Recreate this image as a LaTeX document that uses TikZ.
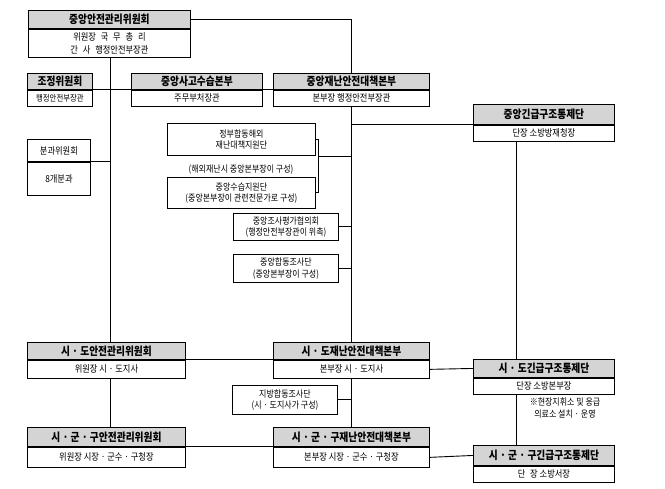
\documentclass[tikz,border=0pt]{standalone}
\usepackage{fontspec}
\usetikzlibrary{calc}
\setmainfont[FakeStretch=0.86]{Noto Sans CJK KR}
\definecolor{hdrgray}{RGB}{212,212,212}
\newcommand\twobox[8]{%
  \node[hdr, minimum width=#4pt, minimum height=#5pt, anchor=north west] (#1-h) at (#2,#3) {#7};
  \node[bdy, minimum width=#4pt, minimum height=#6pt, anchor=north] (#1-b) at (#1-h.south) {#8};}
\tikzset{
  hdr/.style={draw, line width=0.9pt, fill=hdrgray, inner sep=0pt, font=\fontsize{11.3}{12}\selectfont\bfseries},
  bdy/.style={draw, line width=0.9pt, fill=white, inner sep=0pt, align=center, font=\fontsize{9.6}{12.5}\selectfont},
  sbox/.style={draw, line width=0.9pt, fill=white, inner sep=0pt, align=center, anchor=north west, font=\fontsize{9.3}{11.5}\selectfont},
  conn/.style={line width=0.9pt},
  note/.style={inner sep=0pt, align=center, font=\fontsize{9.3}{11.5}\selectfont}
}
\begin{document}
\begin{tikzpicture}[x=1pt,y=-1pt]
\useasboundingbox (0,0) rectangle (665,489);
% spines
\coordinate (L) at (110,0);
\coordinate (C) at (351,0);
\coordinate (R) at (516,0);
\coordinate (BR) at (318,0);
% central level
\twobox{cc}{28}{10}{162}{18}{28}{중앙안전관리위원회}{위원장\enspace 국\enspace 무\enspace 총\enspace 리\\간\enspace 사\enspace 행정안전부장관}
\twobox{coord}{27}{73}{65}{16}{16}{조정위원회}{\fontsize{8.6}{9}\selectfont 행정안전부장관}
\twobox{sago}{131}{73}{131}{16}{16}{중앙사고수습본부}{주무부처장관}
\twobox{cdh}{273}{73}{156}{16}{16}{중앙재난안전대책본부}{본부장 행정안전부장관}
\twobox{cem}{473}{104}{141}{20}{16}{중앙긴급구조통제단}{단장 소방방재청장}
\node[bdy, minimum width=63pt, minimum height=22pt, anchor=north west] (sub-h) at (27,139) {분과위원회};
\node[bdy, minimum width=63pt, minimum height=33pt, anchor=north] (sub-b) at (sub-h.south) {8개분과};
\node[sbox, minimum width=148pt, minimum height=32pt] (gov) at (167,123) {정부합동해외\\재난대책지원단};
\node[note] (govnote) at (241,170) {(해외재난시 중앙본부장이 구성)};
\node[sbox, minimum width=148pt, minimum height=31pt] (sup) at (167,177) {중앙수습지원단\\(중앙본부장이 관련전문가로 구성)};
\node[sbox, minimum width=105pt, minimum height=27pt] (eval) at (233,213) {중앙조사평가협의회\\(행정안전부장관이 위촉)};
\node[sbox, minimum width=105pt, minimum height=28pt] (joint) at (233,254) {중앙합동조사단\\(중앙본부장이 구성)};
% province level
\twobox{pc}{27}{342}{158}{17}{18}{시 · 도안전관리위원회}{위원장 시 · 도지사}
\twobox{pdh}{273}{342}{156}{17}{18}{시 · 도재난안전대책본부}{본부장 시 · 도지사}
\twobox{pem}{473}{359}{141}{18}{16}{시 · 도긴급구조통제단}{단장 소방본부장}
\node[note] (pemnote) at (565,408) {※현장지휘소 및 응급\\의료소 설치 · 운영};
\node[sbox, minimum width=105pt, minimum height=29pt] (local) at (232,385) {지방합동조사단\\(시 · 도지사가 구성)};
% city level
\twobox{cc3}{27}{427}{158}{19}{20}{시 · 군 · 구안전관리위원회}{위원장 시장 · 군수 · 구청장}
\twobox{cdh3}{273}{427}{156}{19}{20}{시 · 군 · 구재난안전대책본부}{본부장 시장 · 군수 · 구청장}
\twobox{cem3}{473}{445}{141}{20}{16}{시 · 군 · 구긴급구조통제단}{단\enspace 장 소방서장}
% connectors
\draw[conn] (cc-b.south -| L) -- (pc-h.north -| L);
\draw[conn] (pc-b.south -| L) -- (cc3-h.north -| L);
\draw[conn] (cc-h.east) -| (cdh-h.north -| C);
\draw[conn] (coord-h.south east) -- (sago-h.south west);
\draw[conn] (sago-h.south east) -- (cdh-h.south west);
\draw[conn] (sub-h.south east) -- (sub-h.south east -| L);
\draw[conn] (cdh-b.south -| C) -- (pdh-h.north -| C);
\draw[conn] (pdh-b.south -| C) -- (cdh3-h.north -| C);
\draw[conn] (cem-h.south west) -- (cem-h.south west -| C);
\draw[conn] (gov.east) -- (gov.east -| BR) -- (sup.east -| BR) -- (sup.east);
\coordinate (brm) at ($(BR |- gov.east)!0.32!(BR |- sup.east)$);
\draw[conn] (brm) -- (brm -| C);
\draw[conn] (eval.east) -- (eval.east -| C);
\draw[conn] (joint.east) -- (joint.east -| C);
\draw[conn] (cem-b.south -| R) -- (pem-h.north -| R);
\draw[conn] (pem-b.south -| R) -- (cem3-h.north -| R);
\draw[conn] (pc-h.south east) -- (pdh-h.south west);
\draw[conn] (pdh-b.east) -- (pem-h.west);
\draw[conn] (local.east) -- (local.east -| C);
\draw[conn] (cc3-h.south east) -- (cdh3-h.south west);
\draw[conn] (cdh3-b.east) -- (cem3-h.west);
\end{tikzpicture}
\end{document}
